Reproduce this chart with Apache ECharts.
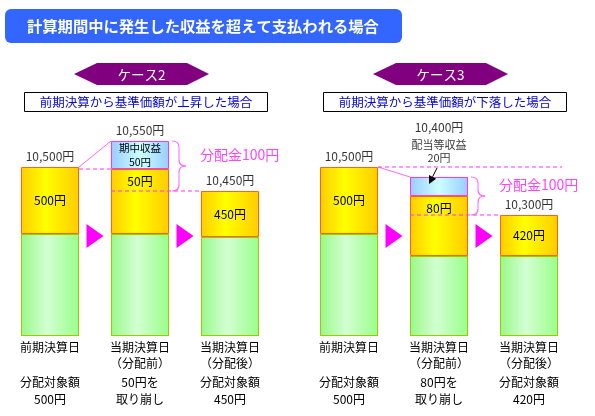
<!DOCTYPE html>
<html>
<head>
<meta charset="utf-8">
<script src="https://cdn.jsdelivr.net/npm/echarts@6/dist/echarts.min.js"></script>
<style>
    html, body { margin: 0; padding: 0; background: #fff; }
    #grafico { width: 595px; height: 416px; }
</style>
</head>
<body>
<div id="grafico"></div>
<script>
// dados (alturas esquemáticas, base = 0)
var categorias2 = ['前期決算日', '当期決算日\n（分配前）', '当期決算日\n（分配後）'];
var categorias3 = ['前期決算日', '当期決算日\n（分配前）', '当期決算日\n（分配後）'];
var notas2 = ['分配対象額\n500円', '50円を\n取り崩し', '分配対象額\n450円'];
var notas3 = ['分配対象額\n500円', '80円を\n取り崩し', '分配対象額\n420円'];

var verde2 = [102, 102, 99];
var laranja2 = [67, 65, 46];
var azul2 = [0, 28, 0];
var verde3 = [102, 80, 80];
var laranja3 = [67, 60, 41];
var azul3 = [0, 19, 0];

var rotLaranja2 = ['500円', '50円', '450円'];
var rotLaranja3 = ['500円', '80円', '420円'];
var rotAzul2 = ['', '期中収益\n50円', ''];
var rotAzul3 = ['', '', ''];
var valores2 = ['10,500円', '10,550円', '10,450円'];
var valores3 = ['10,500円', '10,400円', '10,300円'];
var anotacao3 = ['配当等収益', '20円'];

var titulo = '計算期間中に発生した収益を超えて支払われる場合';
var casos = ['ケース2', 'ケース3'];
var subtitulos = ['前期決算から基準価額が上昇した場合', '前期決算から基準価額が下落した場合'];
var distribuicao = '分配金100円';

var fonte = "'Noto Sans CJK JP', sans-serif";
var magenta = '#ff33ff';

var gradVerde = new echarts.graphic.LinearGradient(0, 0, 1, 0, [
    { offset: 0, color: '#99f888' },
    { offset: 0.45, color: '#d2ffd2' },
    { offset: 1, color: '#99ff88' }
]);
var gradLaranja = new echarts.graphic.LinearGradient(0, 0, 1, 0, [
    { offset: 0, color: '#ffcc00' },
    { offset: 0.42, color: '#ffff00' },
    { offset: 1, color: '#ffcc00' }
]);
var gradAzul = new echarts.graphic.LinearGradient(0, 0, 1, 0, [
    { offset: 0, color: '#99ccff' },
    { offset: 0.5, color: '#ccffff' },
    { offset: 1, color: '#99ccff' }
]);

function montarRotulo(cat, nota) {
    let c = cat.split('\n');
    if (c.length < 2) c.push(' ');
    let n = nota.split('\n');
    return `{a|${c[0]}}\n{a|${c[1]}}\n{b|${n[0]}}\n{c|${n[1]}}`;
}

function eixoX(g, categorias, notas) {
    return {
        type: 'category',
        gridIndex: g,
        data: categorias,
        axisLine: { show: false },
        axisTick: { show: false },
        axisLabel: {
            interval: 0,
            margin: 3,
            formatter: (val, idx) => montarRotulo(val, notas[idx]),
            rich: {
                a: { fontFamily: fonte, fontSize: 12, lineHeight: 16, color: '#000' },
                b: { fontFamily: fonte, fontSize: 12, lineHeight: 22, color: '#000' },
                c: { fontFamily: fonte, fontSize: 12, lineHeight: 12, color: '#000' }
            }
        }
    };
}

function montarSeries(g, verde, laranja, azul, rotLaranja, rotAzul, valores, anotacao) {
    let pilha = 'caso' + g;
    let base = { type: 'bar', xAxisIndex: g, yAxisIndex: g, stack: pilha, barWidth: 58, silent: true };
    return [
        Object.assign({}, base, {
            data: verde,
            itemStyle: { color: gradVerde, borderColor: '#99cc00', borderWidth: 1 }
        }),
        Object.assign({}, base, {
            data: laranja.map((v, i) => ({
                value: v,
                label: {
                    show: true,
                    formatter: rotLaranja[i],
                    position: azul[i] ? 'insideTop' : 'inside',
                    distance: azul[i] ? 6 : 5,
                    fontFamily: fonte, fontSize: 12, color: '#000'
                }
            })),
            itemStyle: { color: gradLaranja, borderColor: '#ff6600', borderWidth: 1 }
        }),
        Object.assign({}, base, {
            data: azul.map((v, i) => v ? {
                value: v,
                label: {
                    show: !!rotAzul[i],
                    formatter: rotAzul[i],
                    position: 'inside',
                    fontFamily: fonte, fontSize: 10.5, lineHeight: 14, color: '#000'
                }
            } : null),
            itemStyle: { color: gradAzul, borderColor: magenta, borderWidth: 1 }
        }),
        {
            type: 'scatter',
            xAxisIndex: g, yAxisIndex: g,
            symbolSize: 1,
            silent: true,
            itemStyle: { color: 'rgba(0,0,0,0)' },
            data: valores.map((t, i) => {
                let total = verde[i] + laranja[i] + azul[i];
                if (anotacao && azul[i]) {
                    return {
                        value: [i, total],
                        label: {
                            show: true, position: 'top', distance: 12,
                            formatter: `{v|${t}}\n{n|${anotacao[0]}}\n{n|${anotacao[1]}}`,
                            rich: {
                                v: { fontFamily: fonte, fontSize: 12, lineHeight: 22, color: '#000' },
                                n: { fontFamily: fonte, fontSize: 11, lineHeight: 13, color: '#000' }
                            }
                        }
                    };
                }
                return {
                    value: [i, total],
                    label: {
                        show: true, position: 'top', distance: 4,
                        formatter: t,
                        fontFamily: fonte, fontSize: 12, color: '#000'
                    }
                };
            })
        }
    ];
}

var grafico = echarts.init(document.getElementById('grafico'), null, { renderer: 'canvas' });

var option = {
    backgroundColor: '#fff',
    animation: false,
    grid: [
        { left: 5, width: 270, top: 136, bottom: 80 },
        { left: 304, width: 270, top: 136, bottom: 80 }
    ],
    xAxis: [eixoX(0, categorias2, notas2), eixoX(1, categorias3, notas3)],
    yAxis: [
        { type: 'value', gridIndex: 0, min: 0, max: 200, show: false },
        { type: 'value', gridIndex: 1, min: 0, max: 200, show: false }
    ],
    series: [].concat(
        montarSeries(0, verde2, laranja2, azul2, rotLaranja2, rotAzul2, valores2, null),
        montarSeries(1, verde3, laranja3, azul3, rotLaranja3, rotAzul3, valores3, anotacao3)
    )
};

grafico.setOption(option);

// anotações (posições tiradas dos eixos)
function px(g, i, v) {
    return grafico.convertToPixel({ gridIndex: g }, [i, v]);
}

function linha(x1, y1, x2, y2, tracejada, cor) {
    return {
        type: 'line', silent: true, z: 10,
        shape: { x1: x1, y1: y1, x2: x2, y2: y2 },
        style: { stroke: cor || magenta, lineWidth: 1, lineDash: tracejada ? [4, 3] : null }
    };
}

function curva(x1, y1, cx, cy, x2, y2) {
    return {
        type: 'bezierCurve', silent: true, z: 10,
        shape: { x1: x1, y1: y1, cpx1: cx, cpy1: cy, x2: x2, y2: y2 },
        style: { stroke: '#ff66ff', lineWidth: 1.2, fill: null }
    };
}

function chave(x0, yt, yb) {
    let w = 14, m = (yt + yb) / 2, r = 6, xm = x0 + w / 2;
    return [
        curva(x0, yt, xm, yt, xm, yt + r),
        linha(xm, yt + r, xm, m - r, false, '#ff66ff'),
        curva(xm, m - r, xm, m, x0 + w, m),
        curva(x0 + w, m, xm, m, xm, m + r),
        linha(xm, m + r, xm, yb - r, false, '#ff66ff'),
        curva(xm, yb - r, xm, yb, x0, yb)
    ];
}

function triangulo(cx, cy) {
    return {
        type: 'polygon', silent: true,
        shape: { points: [[cx - 8.5, cy - 12], [cx + 8.5, cy], [cx - 8.5, cy + 12]] },
        style: { fill: '#ff00ff' }
    };
}

function texto(t, x, y, opts) {
    return {
        type: 'text', silent: true, z: 11,
        style: Object.assign({
            text: t, x: x, y: y, fill: '#000',
            fontFamily: fonte, fontSize: 12, fontWeight: 'normal',
            textAlign: 'left', textVerticalAlign: 'middle'
        }, opts || {})
    };
}

var meia = 29;
var elementos = [];

// cabeçalho
elementos.push({
    type: 'rect', silent: true,
    shape: { x: 5, y: 9, width: 397, height: 34, r: 6 },
    style: { fill: '#3366ff' }
});
elementos.push(texto(titulo, 27, 26, { fill: '#fff', fontSize: 15.3, fontWeight: 'bold' }));

[[74, 209], [373, 508]].forEach((h, k) => {
    let cx = (h[0] + h[1]) / 2;
    elementos.push({
        type: 'polygon', silent: true,
        shape: { points: [[h[0], 74], [h[0] + 23, 63], [h[1] - 22, 63], [h[1], 74], [h[1] - 22, 85], [h[0] + 23, 85]] },
        style: { fill: '#800080' }
    });
    elementos.push(texto(casos[k], cx, 74.5, { fill: '#fff', fontSize: 13.5, textAlign: 'center' }));
});

[24, 323].forEach((x, k) => {
    elementos.push({
        type: 'rect', silent: true,
        shape: { x: x + 0.5, y: 92.5, width: 243, height: 19 },
        style: { fill: '#fff', stroke: '#000', lineWidth: 1 }
    });
    elementos.push(texto(subtitulos[k], x + 122, 102.5, { fill: '#0000dd', fontSize: 12.5, textAlign: 'center' }));
});

// ligações e chaves de cada caso
[[verde2, laranja2, azul2], [verde3, laranja3, azul3]].forEach((d, g) => {
    let [verde, laranja, azul] = d;
    let b1 = px(g, 0, verde[0] + laranja[0]);
    let b2l = px(g, 1, verde[1] + laranja[1]);
    let b2a = px(g, 1, verde[1] + laranja[1] + azul[1]);
    let b3 = px(g, 2, verde[2] + laranja[2]);
    let yb1 = Math.round(b1[1]), yb2 = Math.round(b2l[1]), yb3 = Math.round(b3[1]);

    elementos.push(linha(b1[0] + meia, b1[1], b2a[0] - meia, b2a[1], false, '#ff66ff'));
    if (g === 0) {
        elementos.push(linha(b1[0] + meia, yb2, b2l[0] - meia, yb2, true));
    } else {
        elementos.push(linha(b1[0] + meia, yb1, b3[0] + meia + 4, yb1, true));
    }
    elementos.push(linha(b2a[0] - meia, yb3, b3[0] - meia, yb3, true));

    let x0 = b2a[0] + meia + 3;
    chave(x0, b2a[1], b3[1]).forEach(e => elementos.push(e));
    let meio = (b2a[1] + b3[1]) / 2;
    elementos.push(texto(distribuicao, x0 + 28, meio - 11, { fill: '#ff44ff', fontSize: 14 }));

    // setas entre as barras
    let yt = px(g, 0, 100)[1];
    elementos.push(triangulo((b1[0] + meia + b2a[0] - meia) / 2, yt));
    elementos.push(triangulo((b2a[0] + meia + b3[0] - meia) / 2, yt));

    if (g === 1) {
        // seta do 配当等収益
        let tx = b2a[0] - 10, ty = b2a[1] + 7;
        let sx = b2a[0] - 2, sy = b2a[1] - 9;
        let dx = tx - sx, dy = ty - sy, len = Math.hypot(dx, dy);
        let ux = dx / len, uy = dy / len;
        let bx = tx - ux * 8, by = ty - uy * 8;
        elementos.push(linha(sx, sy, bx, by, false, '#000'));
        elementos.push({
            type: 'polygon', silent: true, z: 11,
            shape: { points: [[tx, ty], [bx + uy * 4, by - ux * 4], [bx - uy * 4, by + ux * 4]] },
            style: { fill: '#000' }
        });
    }
});

grafico.setOption({ graphic: { elements: elementos } });
</script>
</body>
</html>
